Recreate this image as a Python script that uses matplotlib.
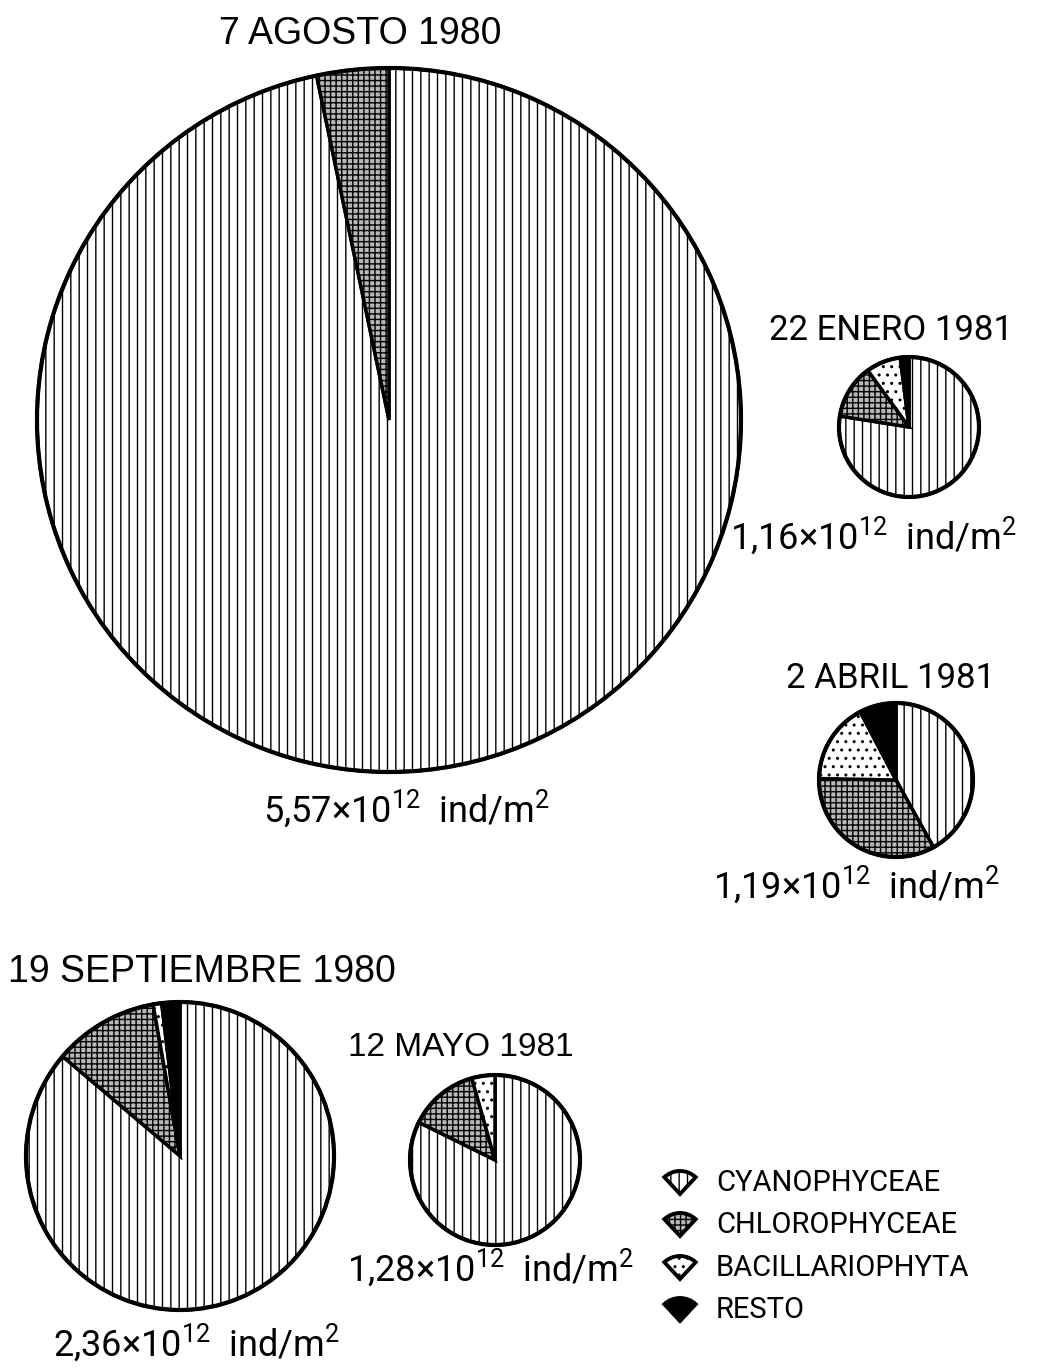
"""
Phytoplankton composition pies (Cyanophyceae / Chlorophyceae /
Bacillariophyta / Resto) for five sampling dates, pie area ~ total density.
"""

import matplotlib
matplotlib.use("Agg")
import matplotlib.pyplot as plt
from matplotlib.patches import Circle, Wedge

W, H = 1044, 1368

plt.rcParams["hatch.linewidth"] = 1.0
plt.rcParams["mathtext.fontset"] = "custom"
plt.rcParams["mathtext.rm"] = "Roboto"
plt.rcParams["mathtext.it"] = "Roboto"

# ---------------------------------------------------------------------------
# Data (percent of total individuals)
# ---------------------------------------------------------------------------
GROUPS = ["CYANOPHYCEAE", "CHLOROPHYCEAE", "BACILLARIOPHYTA", "RESTO"]
DATES = ["7 AGOSTO 1980", "22 ENERO 1981", "2 ABRIL 1981",
         "19 SEPTIEMBRE 1980", "12 MAYO 1981"]
TOTALS = ["5,57", "1,16", "1,19", "2,36", "1,28"]

AGOSTO = [96.7, 3.3, 0.0, 0.0]
ENERO = [77.5, 12.5, 8.0, 2.0]
ABRIL = [41.9, 33.4, 17.0, 7.7]
SEPTIEMBRE = [86.2, 11.0, 0.9, 1.9]
MAYO = [82.3, 13.3, 4.4, 0.0]

SHARES = [AGOSTO, ENERO, ABRIL, SEPTIEMBRE, MAYO]

# look of each group
FACES = ["white", "#b8b8b8", "white", "black"]
HATCHES = ["||", "+++", "..", None]

# layout (pixels): pie centre x, y, radius
PIE_POS = [(389, 420, 352), (909, 427, 70), (896, 780, 77),
           (180, 1156, 154), (495, 1160, 85)]
# title: x, baseline y, ha, font, size
TITLE_POS = [(360, 44, "center", "Liberation Sans", 27),
             (891, 340, "center", "Roboto", 25),
             (891, 688, "center", "Roboto", 25),
             (8, 982, "left", "Liberation Sans", 27),
             (461, 1056, "center", "Liberation Sans", 24)]
TOTAL_POS = [(406, 822), (873, 549), (856, 898), (196, 1356), (490, 1281)]


def Y(y):
    """Pixel row (top-down) -> data y (bottom-up)."""
    return H - y


def draw_pie(ax, shares, cx, cy, r):
    vals, faces, hatches = [], [], []
    for v, f, h in zip(shares, FACES, HATCHES):
        if v > 0:
            vals.append(v)
            faces.append(f)
            hatches.append(h)
    ax.pie(vals, colors=faces, hatch=hatches, startangle=90,
           counterclock=False, center=(cx, Y(cy)), radius=r,
           wedgeprops=dict(edgecolor="black", linewidth=2.5))
    ax.add_patch(Circle((cx, Y(cy)), r, fill=False, edgecolor="black",
                        linewidth=3.0, zorder=5))


def draw_legend(ax):
    x0, rows = 680, [1191, 1233, 1276, 1318]
    for name, f, h, yb in zip(GROUPS, FACES, HATCHES, rows):
        ax.add_patch(Wedge((x0, Y(yb + 3)), 23, 47, 133, facecolor=f,
                           hatch=h, edgecolor="black", linewidth=2.8))
        ax.text(716, Y(yb), name, fontsize=21, family="Roboto",
                ha="left", va="baseline")


def main():
    fig = plt.figure(figsize=(W / 100, H / 100), dpi=100)
    ax = fig.add_axes([0, 0, 1, 1])

    for shares, (cx, cy, r) in zip(SHARES, PIE_POS):
        draw_pie(ax, shares, cx, cy, r)

    for date, (x, yb, ha, fam, size) in zip(DATES, TITLE_POS):
        ax.text(x, Y(yb), date, fontsize=size, family=fam, ha=ha,
                va="baseline")

    for tot, (x, yb) in zip(TOTALS, TOTAL_POS):
        ax.text(x, Y(yb), tot + "\u00d710$^{12}$  ind/m$^{2}$", fontsize=26,
                family="Roboto", ha="center", va="baseline")

    draw_legend(ax)

    ax.set_xlim(0, W)
    ax.set_ylim(0, H)
    ax.set_aspect("equal")
    ax.axis("off")
    fig.savefig("out.png", dpi=100)
    plt.close(fig)


if __name__ == "__main__":
    main()
